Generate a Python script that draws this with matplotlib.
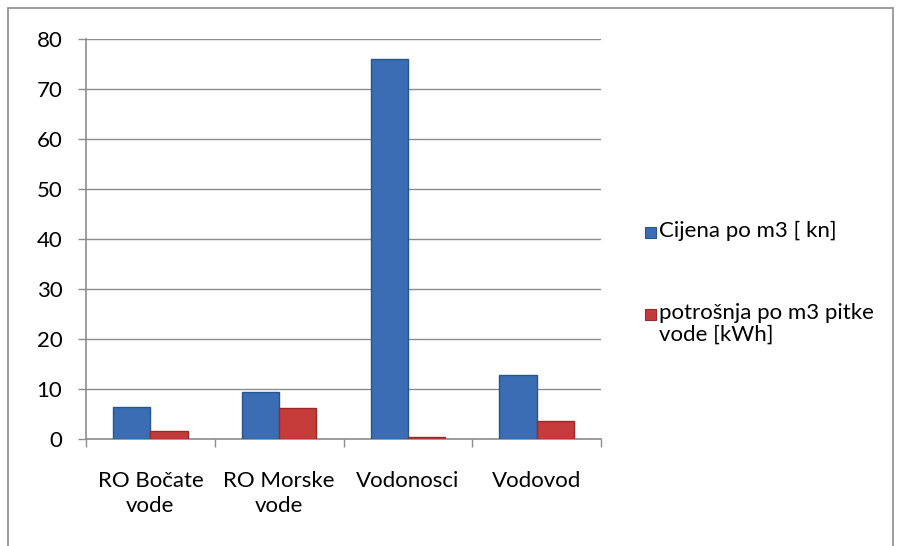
import numpy as np
import matplotlib.pyplot as plt
from matplotlib.patches import Rectangle

categories = ["RO Bočate\nvode", "RO Morske\nvode", "Vodonosci", "Vodovod"]
cijena = [6.4, 9.4, 76.0, 12.8]
potrosnja = [1.6, 6.2, 0.4, 3.6]
series_names = ["Cijena po m3 [ kn]", "potrošnja po m3 pitke\nvode [kWh]"]
colors = ["#3a6db3", "#c53b3a"]
edges = ["#2a5490", "#9a2a2a"]

plt.rcParams['font.family'] = ['Lato', 'DejaVu Sans']
grey = "#8c8c8c"
fs = 16

fig = plt.figure(figsize=(9, 5.46), dpi=100)
fig.patches.append(Rectangle((8 / 900, -0.01), 885 / 900, 1 - 8 / 546 + 0.01,
                             transform=fig.transFigure, fill=False,
                             edgecolor=grey, linewidth=1.2))

ax = fig.add_axes([86 / 900, 1 - 439 / 546, 515 / 900, 400 / 546])
x = np.arange(len(categories))
w = 0.29
ax.bar(x - w / 2, cijena, w, color=colors[0], edgecolor=edges[0],
       linewidth=1, zorder=3)
ax.bar(x + w / 2, potrosnja, w, color=colors[1], edgecolor=edges[1],
       linewidth=1, zorder=3)

ax.set_xlim(-0.5, len(categories) - 0.5)
ax.set_ylim(0, 80)
ax.set_yticks(range(0, 81, 10))
ax.yaxis.grid(True, color=grey, linewidth=1)
ax.set_axisbelow(True)

ax.set_xticks(x)
ax.set_xticklabels(categories, fontsize=fs, linespacing=1.3)
ax.set_xticks(np.arange(len(categories) + 1) - 0.5, minor=True)
ax.tick_params(axis='x', which='major', length=0, pad=23)
ax.tick_params(axis='x', which='minor', length=6, color=grey, width=1)
ax.tick_params(axis='y', length=6, color=grey, width=1, labelsize=fs, pad=11)

for s in ["top", "right"]:
    ax.spines[s].set_visible(False)
for s in ["left", "bottom"]:
    ax.spines[s].set_color(grey)
    ax.spines[s].set_linewidth(1.2)

# legend, drawn by hand so the marker sits on the first text line
legend_y = [233, 315]
for name, c, e, yy in zip(series_names, colors, edges, legend_y):
    fig.patches.append(Rectangle((645 / 900, 1 - (yy + 5) / 546), 11 / 900, 11 / 546,
                                 transform=fig.transFigure, facecolor=c,
                                 edgecolor=e, linewidth=0.8))
    fig.text(659 / 900, 1 - (yy - 12) / 546, name, fontsize=fs, va="top",
             ha="left", linespacing=1.1)

fig.savefig("out.png", dpi=100)
